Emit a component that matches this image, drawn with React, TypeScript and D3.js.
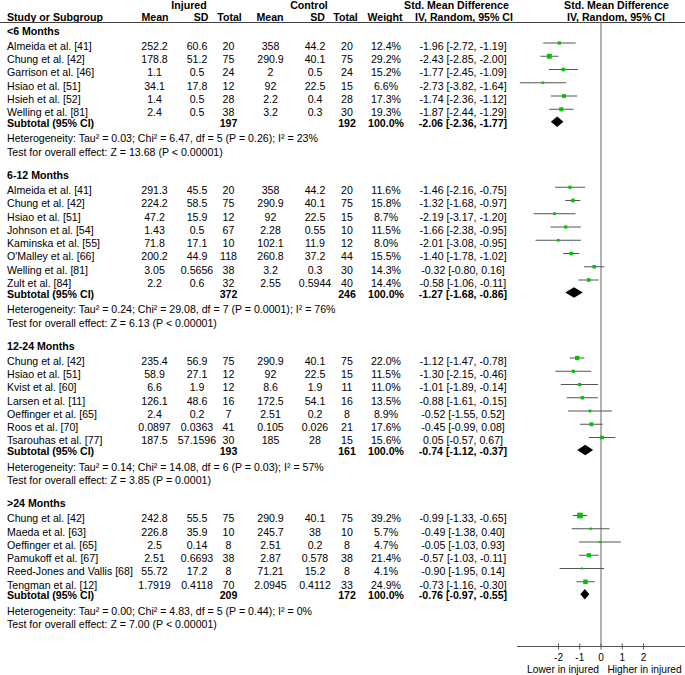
import React from "react";
import * as d3 from "d3";

// ---------- DATA ----------
const groupTitles = ["<6 Months", "6-12 Months", "12-24 Months", ">24 Months"];

// [study, injuredMean, injuredSD, injuredN, controlMean, controlSD, controlN, weight%, SMD, lower, upper]
const lt6Studies: [string, number, number, number, number, number, number, number, number, number, number][] = [
  ["Almeida et al. [41]", 252.2, 60.6, 20, 358, 44.2, 20, 12.4, -1.96, -2.72, -1.19],
  ["Chung et al. [42]", 178.8, 51.2, 75, 290.9, 40.1, 75, 29.2, -2.43, -2.85, -2.0],
  ["Garrison et al. [46]", 1.1, 0.5, 24, 2, 0.5, 24, 15.2, -1.77, -2.45, -1.09],
  ["Hsiao et al. [51]", 34.1, 17.8, 12, 92, 22.5, 15, 6.6, -2.73, -3.82, -1.64],
  ["Hsieh et al. [52]", 1.4, 0.5, 28, 2.2, 0.4, 28, 17.3, -1.74, -2.36, -1.12],
  ["Welling et al. [81]", 2.4, 0.5, 38, 3.2, 0.3, 30, 19.3, -1.87, -2.44, -1.29],
];
const m6to12Studies: [string, number, number, number, number, number, number, number, number, number, number][] = [
  ["Almeida et al. [41]", 291.3, 45.5, 20, 358, 44.2, 20, 11.6, -1.46, -2.16, -0.75],
  ["Chung et al. [42]", 224.2, 58.5, 75, 290.9, 40.1, 75, 15.8, -1.32, -1.68, -0.97],
  ["Hsiao et al. [51]", 47.2, 15.9, 12, 92, 22.5, 15, 8.7, -2.19, -3.17, -1.2],
  ["Johnson et al. [54]", 1.43, 0.5, 67, 2.28, 0.55, 10, 11.5, -1.66, -2.38, -0.95],
  ["Kaminska et al. [55]", 71.8, 17.1, 10, 102.1, 11.9, 12, 8.0, -2.01, -3.08, -0.95],
  ["O'Malley et al. [66]", 200.2, 44.9, 118, 260.8, 37.2, 44, 15.5, -1.4, -1.78, -1.02],
  ["Welling et al. [81]", 3.05, 0.5656, 38, 3.2, 0.3, 30, 14.3, -0.32, -0.8, 0.16],
  ["Zult et al. [84]", 2.2, 0.6, 32, 2.55, 0.5944, 40, 14.4, -0.58, -1.06, -0.11],
];
const m12to24Studies: [string, number, number, number, number, number, number, number, number, number, number][] = [
  ["Chung et al. [42]", 235.4, 56.9, 75, 290.9, 40.1, 75, 22.0, -1.12, -1.47, -0.78],
  ["Hsiao et al. [51]", 58.9, 27.1, 12, 92, 22.5, 15, 11.5, -1.3, -2.15, -0.46],
  ["Kvist et al. [60]", 6.6, 1.9, 12, 8.6, 1.9, 11, 11.0, -1.01, -1.89, -0.14],
  ["Larsen et al. [11]", 126.1, 48.6, 16, 172.5, 54.1, 16, 13.5, -0.88, -1.61, -0.15],
  ["Oeffinger et al. [65]", 2.4, 0.2, 7, 2.51, 0.2, 8, 8.9, -0.52, -1.55, 0.52],
  ["Roos et al. [70]", 0.0897, 0.0363, 41, 0.105, 0.026, 21, 17.6, -0.45, -0.99, 0.08],
  ["Tsarouhas et al. [77]", 187.5, 57.1596, 30, 185, 28, 15, 15.6, 0.05, -0.57, 0.67],
];
const gt24Studies: [string, number, number, number, number, number, number, number, number, number, number][] = [
  ["Chung et al. [42]", 242.8, 55.5, 75, 290.9, 40.1, 75, 39.2, -0.99, -1.33, -0.65],
  ["Maeda et al. [63]", 226.8, 35.9, 10, 245.7, 38, 10, 5.7, -0.49, -1.38, 0.4],
  ["Oeffinger et al. [65]", 2.5, 0.14, 8, 2.51, 0.2, 8, 4.7, -0.05, -1.03, 0.93],
  ["Pamukoff et al. [67]", 2.51, 0.6693, 38, 2.87, 0.578, 38, 21.4, -0.57, -1.03, -0.11],
  ["Reed-Jones and Vallis [68]", 55.72, 17.2, 8, 71.21, 15.2, 8, 4.1, -0.9, -1.95, 0.14],
  ["Tengman et al. [12]", 1.7919, 0.4118, 70, 2.0945, 0.4112, 33, 24.9, -0.73, -1.16, -0.3],
];

// [injuredTotal, controlTotal, weight, SMD, lower, upper]
const subtotals: [number, number, number, number, number, number][] = [
  [197, 192, 100.0, -2.06, -2.36, -1.77],
  [372, 246, 100.0, -1.27, -1.68, -0.86],
  [193, 161, 100.0, -0.74, -1.12, -0.37],
  [209, 172, 100.0, -0.76, -0.97, -0.55],
];

const heterogeneity = [
  "Heterogeneity: Tau² = 0.03; Chi² = 6.47, df = 5 (P = 0.26); I² = 23%",
  "Heterogeneity: Tau² = 0.24; Chi² = 29.08, df = 7 (P = 0.0001); I² = 76%",
  "Heterogeneity: Tau² = 0.14; Chi² = 14.08, df = 6 (P = 0.03); I² = 57%",
  "Heterogeneity: Tau² = 0.00; Chi² = 4.83, df = 5 (P = 0.44); I² = 0%",
];
const overallEffect = [
  "Test for overall effect: Z = 13.68 (P < 0.00001)",
  "Test for overall effect: Z = 6.13 (P < 0.00001)",
  "Test for overall effect: Z = 3.85 (P = 0.0001)",
  "Test for overall effect: Z = 7.00 (P < 0.00001)",
];

const axisTicks = [-2, -1, 0, 1, 2];
const axisDomain = [-4, 4];
const favoursLeft = "Lower in injured";
const favoursRight = "Higher in injured";

// ---------- LAYOUT ----------
const W = 685;
const H = 675;
const FS = 10.6;
const FONT = "'Liberation Sans', Arial, Helvetica, sans-serif";
const col = { name: 7, m1: 154.5, sd1: 197, n1: 228.5, m2: 270.5, sd2: 315, n2: 347, w: 386, ci: 463 };
const axisY = 646.5;

const x = d3.scaleLinear().domain(axisDomain).range([516, 686]);

const fmt2 = (v: number) => v.toFixed(2);
const ciText = (e: number, l: number, u: number) => `${fmt2(e)} [${fmt2(l)}, ${fmt2(u)}]`;

type Row =
  | { kind: "title"; y: number; text: string }
  | { kind: "study"; y: number; d: [string, number, number, number, number, number, number, number, number, number, number] }
  | { kind: "subtotal"; y: number; d: [number, number, number, number, number, number] }
  | { kind: "note"; y: number; text: string };

const allGroups = [lt6Studies, m6to12Studies, m12to24Studies, gt24Studies];

function buildRows(): Row[] {
  const rows: Row[] = [];
  let y = 31;
  allGroups.forEach((studies, gi) => {
    rows.push({ kind: "title", y, text: groupTitles[gi] });
    let sy = y + 15;
    studies.forEach((s, i) => {
      rows.push({ kind: "study", y: sy, d: s });
      if (i < studies.length - 1) sy += 13.25;
    });
    const subY = sy + 10.7;
    rows.push({ kind: "subtotal", y: subY, d: subtotals[gi] });
    const hetY = subY + 15.5;
    rows.push({ kind: "note", y: hetY, text: heterogeneity[gi] });
    const testY = hetY + 13.5;
    rows.push({ kind: "note", y: testY, text: overallEffect[gi] });
    y = testY + 23.3;
  });
  return rows;
}

const T = (props: any) => (
  <text fontFamily={FONT} fontSize={FS} fill="#000" {...props} />
);

export default function App() {
  const rows = buildRows();
  const bl = (c: number) => c + 3.8;
  const green = "#00c400";
  const ciColor = "#555";
  const x0 = x(0);

  return (
    <div style={{ position: "absolute", left: 0, top: 0 }}>
      <svg width={W} height={H} viewBox={`0 0 ${W} ${H}`} style={{ display: "block", background: "#fff" }}>
        {/* Headers */}
        <g fontWeight="bold">
          <T x={189} y={bl(5)} textAnchor="middle" fontWeight="bold">Injured</T>
          <T x={309} y={bl(5)} textAnchor="middle" fontWeight="bold">Control</T>
          <T x={456.5} y={bl(5)} textAnchor="middle" fontWeight="bold">Std. Mean Difference</T>
          <T x={616.5} y={bl(5)} textAnchor="middle" fontWeight="bold">Std. Mean Difference</T>
          <T x={col.name} y={bl(17)} fontWeight="bold">Study or Subgroup</T>
          <T x={155} y={bl(17)} textAnchor="middle" fontWeight="bold">Mean</T>
          <T x={201} y={bl(17)} textAnchor="middle" fontWeight="bold">SD</T>
          <T x={229.5} y={bl(17)} textAnchor="middle" fontWeight="bold">Total</T>
          <T x={270} y={bl(17)} textAnchor="middle" fontWeight="bold">Mean</T>
          <T x={317.5} y={bl(17)} textAnchor="middle" fontWeight="bold">SD</T>
          <T x={345.5} y={bl(17)} textAnchor="middle" fontWeight="bold">Total</T>
          <T x={385} y={bl(17)} textAnchor="middle" fontWeight="bold">Weight</T>
          <T x={464} y={bl(17)} textAnchor="middle" fontWeight="bold">IV, Random, 95% CI</T>
          <T x={616} y={bl(17)} textAnchor="middle" fontWeight="bold">IV, Random, 95% CI</T>
        </g>
        <line x1={0} x2={W} y1={22.5} y2={22.5} stroke="#444" strokeWidth={1} />

        {/* Zero line */}
        <line x1={x0} x2={x0} y1={22.5} y2={axisY} stroke="#666" strokeWidth={1} />

        {rows.map((r, i) => {
          if (r.kind === "title") {
            return (
              <T key={i} x={col.name} y={bl(r.y)} fontWeight="bold">{r.text}</T>
            );
          }
          if (r.kind === "note") {
            return (
              <T key={i} x={col.name} y={bl(r.y)}>{r.text}</T>
            );
          }
          if (r.kind === "study") {
            const [name, m1, s1, n1, m2, s2, n2, w, e, lo, hi] = r.d;
            const my = r.y - 3;
            const side = 0.85 * Math.sqrt(w) + 0.3;
            return (
              <g key={i}>
                <T x={col.name} y={bl(r.y)}>{name}</T>
                <T x={col.m1} y={bl(r.y)} textAnchor="middle">{String(m1)}</T>
                <T x={col.sd1} y={bl(r.y)} textAnchor="middle">{String(s1)}</T>
                <T x={col.n1} y={bl(r.y)} textAnchor="middle">{String(n1)}</T>
                <T x={col.m2} y={bl(r.y)} textAnchor="middle">{String(m2)}</T>
                <T x={col.sd2} y={bl(r.y)} textAnchor="middle">{String(s2)}</T>
                <T x={col.n2} y={bl(r.y)} textAnchor="middle">{String(n2)}</T>
                <T x={col.w} y={bl(r.y)} textAnchor="middle">{w.toFixed(1) + "%"}</T>
                <T x={col.ci} y={bl(r.y)} textAnchor="middle">{ciText(e, lo, hi)}</T>
                <line x1={x(lo)} x2={x(hi)} y1={my} y2={my} stroke={ciColor} strokeWidth={1} />
                <rect x={x(e) - side / 2} y={my - side / 2} width={side} height={side} fill={green} />
              </g>
            );
          }
          const [n1, n2, w, e, lo, hi] = r.d;
          const dy = r.y - 1.2;
          const hh = 5.3;
          const pts = [
            [x(lo), dy],
            [x(e), dy - hh],
            [x(hi), dy],
            [x(e), dy + hh],
          ]
            .map((p) => p.join(","))
            .join(" ");
          return (
            <g key={i}>
              <T x={col.name} y={bl(r.y)} fontWeight="bold">Subtotal (95% CI)</T>
              <T x={col.n1} y={bl(r.y)} textAnchor="middle" fontWeight="bold">{String(n1)}</T>
              <T x={col.n2} y={bl(r.y)} textAnchor="middle" fontWeight="bold">{String(n2)}</T>
              <T x={col.w} y={bl(r.y)} textAnchor="middle" fontWeight="bold">{w.toFixed(1) + "%"}</T>
              <T x={col.ci} y={bl(r.y)} textAnchor="middle" fontWeight="bold">{ciText(e, lo, hi)}</T>
              <polygon points={pts} fill="#000" />
            </g>
          );
        })}

        {/* Axis */}
        <line x1={x(axisDomain[0]) + 1} x2={W} y1={axisY} y2={axisY} stroke="#555" strokeWidth={1} />
        {axisTicks.map((t) => (
          <g key={t}>
            <line x1={x(t)} x2={x(t)} y1={axisY - 3} y2={axisY + 3} stroke="#555" strokeWidth={1} />
            <T x={x(t)} y={660.5} textAnchor="middle" fontSize={10}>{String(t)}</T>
          </g>
        ))}
        <T x={x0 - 2} y={673} textAnchor="end" fontSize={10.2}>{favoursLeft}</T>
        <T x={x0 + 6.5} y={673} textAnchor="start" fontSize={10.2}>{favoursRight}</T>
      </svg>
    </div>
  );
}
